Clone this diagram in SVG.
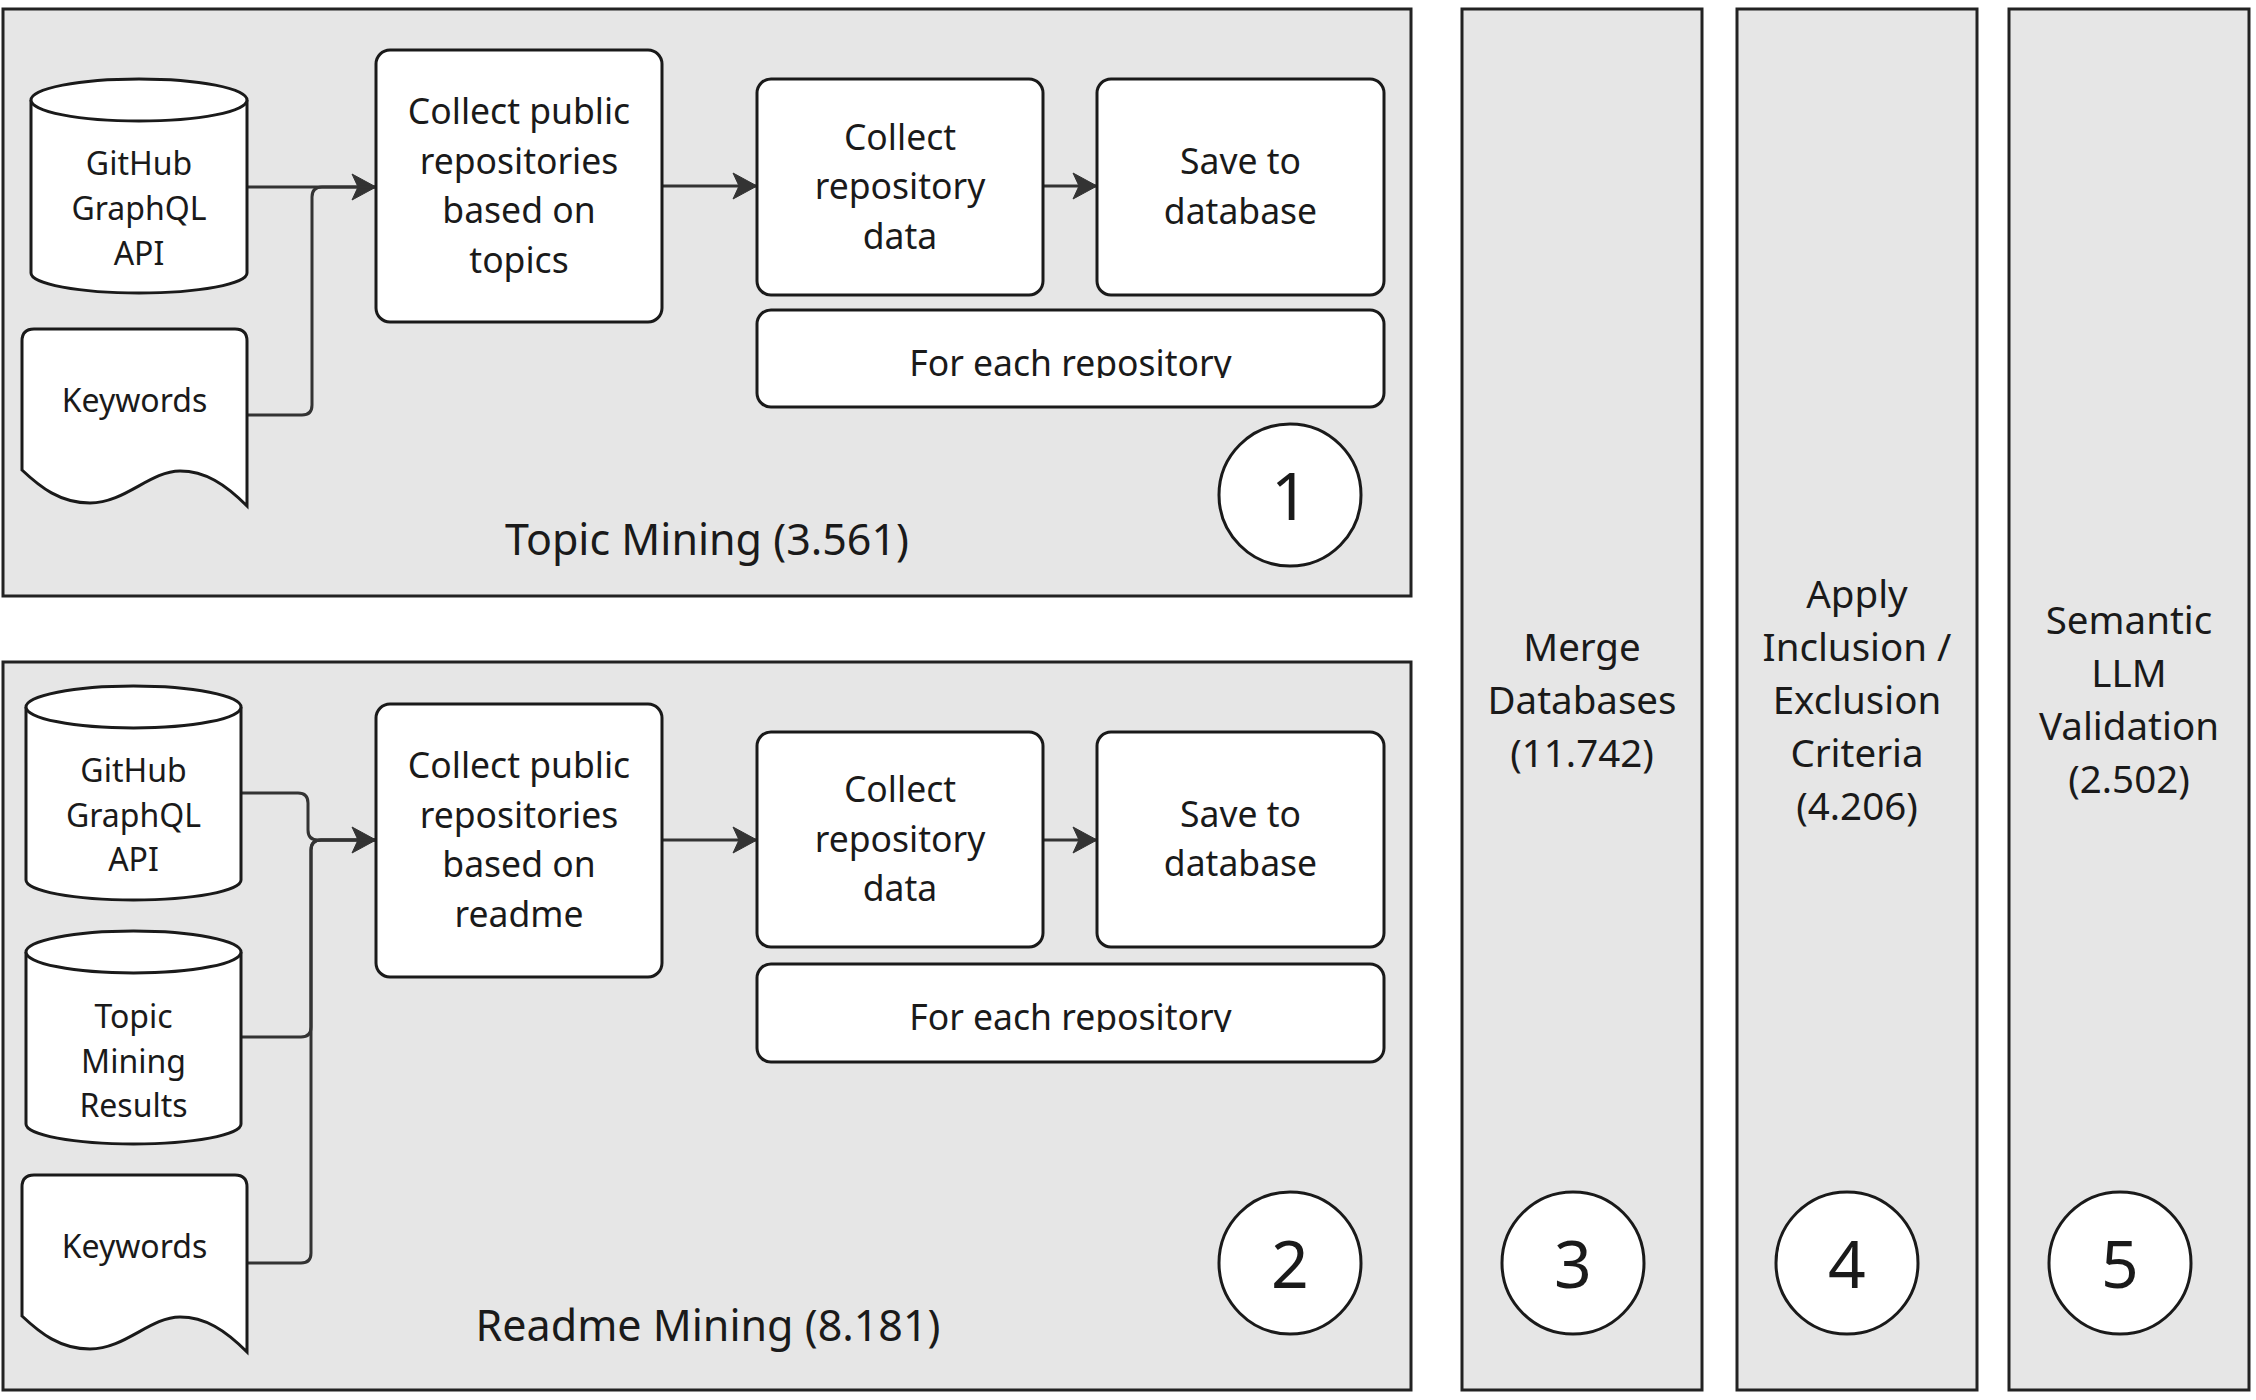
<svg xmlns="http://www.w3.org/2000/svg" width="2256" height="1400" viewBox="0 0 2256 1400">
<style>
.panel{fill:#e6e6e6;stroke:#222;stroke-width:3}
.node{fill:#fff;stroke:#1a1a1a;stroke-width:3}
.conn{fill:none;stroke:#333;stroke-width:3}
text{font-family:"Noto Sans","Open Sans","DejaVu Sans",sans-serif;fill:#1a1a1a;text-anchor:middle}
.t32{font-size:32px}
.t35{font-size:35.5px}
.t38{font-size:38.5px}
.t43{font-size:43px}
.t66{font-size:66px}
</style>
<defs>
<marker id="arr" markerUnits="userSpaceOnUse" markerWidth="28" markerHeight="30" viewBox="0 0 28 30" refX="26" refY="15" orient="auto">
<path d="M2,2 L26,15 L2,28 L8,15 Z" fill="#333" stroke="#333" stroke-width="1" stroke-linejoin="round"/>
</marker>
<clipPath id="clipA"><rect x="757" y="310" width="627" height="68"/></clipPath>
<clipPath id="clipB"><rect x="757" y="964" width="627" height="68"/></clipPath>
</defs>
<rect width="2256" height="1400" fill="#fff"/>

<g id="panel-topic">
<rect class="panel" x="3" y="9" width="1408" height="587"/>
<text class="t43" x="707" y="555">Topic Mining (3.561)</text>
</g>
<g id="panel-readme">
<rect class="panel" x="3" y="662" width="1408" height="728"/>
<text class="t43" x="708" y="1341">Readme Mining (8.181)</text>
</g>

<g id="merge">
<rect class="panel" x="1462" y="9" width="240" height="1381"/>
<text class="t38" x="1582" y="661">Merge</text>
<text class="t38" x="1582" y="714">Databases</text>
<text class="t38" x="1582" y="767">(11.742)</text>
</g>
<g id="apply">
<rect class="panel" x="1737" y="9" width="240" height="1381"/>
<text class="t38" x="1857" y="608">Apply</text>
<text class="t38" x="1857" y="661">Inclusion /</text>
<text class="t38" x="1857" y="714">Exclusion</text>
<text class="t38" x="1857" y="767">Criteria</text>
<text class="t38" x="1857" y="820">(4.206)</text>
</g>
<g id="semantic">
<rect class="panel" x="2009" y="9" width="240" height="1381"/>
<text class="t38" x="2129" y="634">Semantic</text>
<text class="t38" x="2129" y="687">LLM</text>
<text class="t38" x="2129" y="740">Validation</text>
<text class="t38" x="2129" y="793">(2.502)</text>
</g>

<g id="connectors">
<path class="conn" d="M247,187 L376,187" marker-end="url(#arr)"/>
<path class="conn" d="M247,415 L302,415 Q312,415 312,405 L312,197 Q312,187 322,187 L376,187"/>
<path class="conn" d="M662,186 L757,186" marker-end="url(#arr)"/>
<path class="conn" d="M1043,186 L1097,186" marker-end="url(#arr)"/>
<path class="conn" d="M241,793 L298,793 Q308,793 308,803 L308,830 Q308,840 318,840 L376,840" marker-end="url(#arr)"/>
<path class="conn" d="M241,1037 L301,1037 Q311,1037 311,1027 L311,850 Q311,840 321,840 L376,840"/>
<path class="conn" d="M247,1263 L301,1263 Q311,1263 311,1253 L311,850 Q311,840 321,840 L376,840"/>
<path class="conn" d="M662,840 L757,840" marker-end="url(#arr)"/>
<path class="conn" d="M1043,840 L1097,840" marker-end="url(#arr)"/>
</g>

<g id="github-api-1">
<path class="node" d="M31,100 A108,21 0 0 1 247,100 L247,273 A108,20 0 0 1 31,273 Z"/>
<path class="node" d="M31,100 A108,21 0 0 0 247,100" fill="none"/>
<text class="t32" x="139" y="175">GitHub</text>
<text class="t32" x="139" y="220">GraphQL</text>
<text class="t32" x="139" y="265">API</text>
</g>
<g id="keywords-1">
<path class="node" d="M22,341 Q22,329 34,329 L235,329 Q247,329 247,341 L247,506 C225,484 205,471 180,471 C150,471 125,503 90,503 C60,503 40,487 22,470 Z"/>
<text class="t32" x="134.5" y="412">Keywords</text>
</g>
<g id="collect-topics">
<rect class="node" x="376" y="50" width="286" height="272" rx="14"/>
<text class="t35" x="519" y="124">Collect public</text>
<text class="t35" x="519" y="173.5">repositories</text>
<text class="t35" x="519" y="223">based on</text>
<text class="t35" x="519" y="272.5">topics</text>
</g>
<g id="collect-data-1">
<rect class="node" x="757" y="79" width="286" height="216" rx="14"/>
<text class="t35" x="900" y="149.5">Collect</text>
<text class="t35" x="900" y="199">repository</text>
<text class="t35" x="900" y="248.5">data</text>
</g>
<g id="save-1">
<rect class="node" x="1097" y="79" width="287" height="216" rx="14"/>
<text class="t35" x="1240.5" y="174">Save to</text>
<text class="t35" x="1240.5" y="223.5">database</text>
</g>
<g id="foreach-1">
<rect class="node" x="757" y="310" width="627" height="97" rx="14"/>
<text class="t35" x="1070.5" y="376" clip-path="url(#clipA)">For each repository</text>
</g>
<g id="step-1">
<circle class="node" cx="1290" cy="495" r="71"/>
<text class="t66" x="1290" y="520">1</text>
</g>

<g id="github-api-2">
<path class="node" d="M26,707 A107.5,21 0 0 1 241,707 L241,880 A107.5,20 0 0 1 26,880 Z"/>
<path class="node" d="M26,707 A107.5,21 0 0 0 241,707" fill="none"/>
<text class="t32" x="133.5" y="782">GitHub</text>
<text class="t32" x="133.5" y="826.5">GraphQL</text>
<text class="t32" x="133.5" y="871">API</text>
</g>
<g id="topic-results">
<path class="node" d="M26,952 A107.5,21 0 0 1 241,952 L241,1124 A107.5,20 0 0 1 26,1124 Z"/>
<path class="node" d="M26,952 A107.5,21 0 0 0 241,952" fill="none"/>
<text class="t32" x="133.5" y="1028">Topic</text>
<text class="t32" x="133.5" y="1072.5">Mining</text>
<text class="t32" x="133.5" y="1117">Results</text>
</g>
<g id="keywords-2">
<path class="node" d="M22,1187 Q22,1175 34,1175 L235,1175 Q247,1175 247,1187 L247,1352 C225,1330 205,1317 180,1317 C150,1317 125,1349 90,1349 C60,1349 40,1333 22,1316 Z"/>
<text class="t32" x="134.5" y="1258">Keywords</text>
</g>
<g id="collect-readme">
<rect class="node" x="376" y="704" width="286" height="273" rx="14"/>
<text class="t35" x="519" y="778">Collect public</text>
<text class="t35" x="519" y="827.5">repositories</text>
<text class="t35" x="519" y="877">based on</text>
<text class="t35" x="519" y="926.5">readme</text>
</g>
<g id="collect-data-2">
<rect class="node" x="757" y="732" width="286" height="215" rx="14"/>
<text class="t35" x="900" y="802">Collect</text>
<text class="t35" x="900" y="851.5">repository</text>
<text class="t35" x="900" y="901">data</text>
</g>
<g id="save-2">
<rect class="node" x="1097" y="732" width="287" height="215" rx="14"/>
<text class="t35" x="1240.5" y="826.5">Save to</text>
<text class="t35" x="1240.5" y="876">database</text>
</g>
<g id="foreach-2">
<rect class="node" x="757" y="964" width="627" height="98" rx="14"/>
<text class="t35" x="1070.5" y="1030" clip-path="url(#clipB)">For each repository</text>
</g>
<g id="step-2">
<circle class="node" cx="1290" cy="1263" r="71"/>
<text class="t66" x="1290" y="1288">2</text>
</g>
<g id="step-3">
<circle class="node" cx="1573" cy="1263" r="71"/>
<text class="t66" x="1573" y="1288">3</text>
</g>
<g id="step-4">
<circle class="node" cx="1847" cy="1263" r="71"/>
<text class="t66" x="1847" y="1288">4</text>
</g>
<g id="step-5">
<circle class="node" cx="2120" cy="1263" r="71"/>
<text class="t66" x="2120" y="1288">5</text>
</g>
</svg>
